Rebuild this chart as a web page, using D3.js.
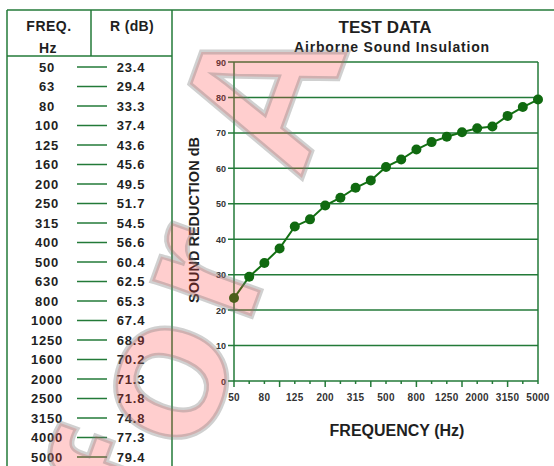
<!DOCTYPE html>
<html>
<head>
<meta charset="utf-8">
<script src="https://cdn.jsdelivr.net/npm/d3@7"></script>
<style>
  body { margin: 0; background: #fff; }
  svg { display: block; font-family: "Liberation Sans", Arial, sans-serif; font-weight: bold; }
</style>
</head>
<body>
<svg id="chart" width="554" height="466"></svg>
<script>
// table + chart data
const freqs = ["50", "63", "80", "100", "125", "160", "200", "250", "315", "400", "500",
  "630", "800", "1000", "1250", "1600", "2000", "2500", "3150", "4000", "5000"];
const rValues = [23.4, 29.4, 33.3, 37.4, 43.6, 45.6, 49.5, 51.7, 54.5, 56.6, 60.4,
  62.5, 65.3, 67.4, 68.9, 70.2, 71.3, 71.8, 74.8, 77.3, 79.4];
const yTicks = [0, 10, 20, 30, 40, 50, 60, 70, 80, 90];
const xLabels = ["50", "80", "125", "200", "315", "500", "800", "1250", "2000", "3150", "5000"];

const green = '#237a38';
const dark = '#1f1f1f';
const svg = d3.select('#chart');

// ---- left table ----
const tbl = svg.append('g');
tbl.append('line').attr('x1', 7).attr('x2', 554).attr('y1', 10).attr('y2', 10)
  .attr('stroke', green).attr('stroke-width', 1.5);
tbl.append('line').attr('x1', 7).attr('x2', 7).attr('y1', 10).attr('y2', 466)
  .attr('stroke', green).attr('stroke-width', 1.5);
tbl.append('line').attr('x1', 172).attr('x2', 172).attr('y1', 10).attr('y2', 466)
  .attr('stroke', green).attr('stroke-width', 1.5);
tbl.append('line').attr('x1', 91).attr('x2', 91).attr('y1', 10).attr('y2', 56)
  .attr('stroke', green).attr('stroke-width', 1.5);
tbl.append('line').attr('x1', 7).attr('x2', 172).attr('y1', 56).attr('y2', 56)
  .attr('stroke', green).attr('stroke-width', 1.5);

tbl.append('text').attr('x', 49).attr('y', 31).attr('text-anchor', 'middle')
  .attr('font-size', 14).attr('letter-spacing', 0.5).attr('fill', dark).text('FREQ.');
tbl.append('text').attr('x', 48).attr('y', 53).attr('text-anchor', 'middle')
  .attr('font-size', 14).attr('letter-spacing', 0.5).attr('fill', dark).text('Hz');
tbl.append('text').attr('x', 132).attr('y', 31).attr('text-anchor', 'middle')
  .attr('font-size', 14).attr('letter-spacing', 0.3).attr('fill', dark).text('R (dB)');

const rowY = d3.scalePoint().domain(freqs).range([67, 457]);

const rows = tbl.selectAll('.row').data(freqs).enter().append('g')
  .attr('class', 'row')
  .attr('transform', d => `translate(0,${rowY(d)})`);

rows.append('text').attr('x', 47).attr('y', 4.5).attr('text-anchor', 'middle')
  .attr('font-size', 13).attr('letter-spacing', 0.8).attr('fill', dark).text(d => d);
rows.append('line').attr('x1', 77).attr('x2', 107).attr('y1', 0).attr('y2', 0)
  .attr('stroke', green).attr('stroke-width', 1.5);
rows.append('text').attr('x', 131).attr('y', 4.5).attr('text-anchor', 'middle')
  .attr('font-size', 13).attr('letter-spacing', 0.8).attr('fill', dark)
  .text((d, i) => rValues[i].toFixed(1));

// ---- chart ----
const x = d3.scalePoint().domain(freqs).range([234, 538]);
const y = d3.scaleLinear().domain([0, 90]).range([381, 62]);

svg.append('text').attr('x', 385).attr('y', 33).attr('text-anchor', 'middle')
  .attr('font-size', 17).attr('fill', dark).text('TEST DATA');
svg.append('text').attr('x', 392).attr('y', 52).attr('text-anchor', 'middle')
  .attr('font-size', 14).attr('letter-spacing', 0.8).attr('fill', dark).text('Airborne Sound Insulation');

const plot = svg.append('g');

// horizontal grid with ticks
plot.selectAll('.grid').data(yTicks).enter().append('line')
  .attr('class', 'grid')
  .attr('x1', 228).attr('x2', 538)
  .attr('y1', d => y(d)).attr('y2', d => y(d))
  .attr('stroke', green).attr('stroke-width', 1.5);

plot.append('line').attr('x1', 234).attr('x2', 234).attr('y1', y(90)).attr('y2', y(0))
  .attr('stroke', green).attr('stroke-width', 1.5);
plot.append('line').attr('x1', 538).attr('x2', 538).attr('y1', y(90)).attr('y2', y(0))
  .attr('stroke', green).attr('stroke-width', 1.5);

plot.selectAll('.ylab').data(yTicks).enter().append('text')
  .attr('class', 'ylab')
  .attr('x', 226).attr('y', d => y(d) + 3.5)
  .attr('text-anchor', 'end').attr('font-size', 9).attr('fill', '#333')
  .text(d => d);

// x ticks
plot.selectAll('.xtick').data(freqs).enter().append('line')
  .attr('class', 'xtick')
  .attr('x1', d => x(d)).attr('x2', d => x(d))
  .attr('y1', y(0)).attr('y2', (d, i) => y(0) + (i % 3 === 0 ? 6 : 3))
  .attr('stroke', green).attr('stroke-width', 1.5);

plot.selectAll('.xlab').data(xLabels).enter().append('text')
  .attr('class', 'xlab')
  .attr('x', d => x(d)).attr('y', 401)
  .attr('text-anchor', 'middle').attr('font-size', 10).attr('letter-spacing', 0.3).attr('fill', '#333')
  .text(d => d);

svg.append('text').attr('transform', 'translate(199,220) rotate(-90)')
  .attr('text-anchor', 'middle').attr('font-size', 14.5).attr('fill', dark)
  .text('SOUND REDUCTION dB');
svg.append('text').attr('x', 397).attr('y', 436).attr('text-anchor', 'middle')
  .attr('font-size', 16).attr('fill', dark).text('FREQUENCY (Hz)');

// data line + dots
const line = d3.line().x((d, i) => x(freqs[i])).y(d => y(d));
plot.append('path').datum(rValues)
  .attr('d', line).attr('fill', 'none')
  .attr('stroke', '#137013').attr('stroke-width', 2);
plot.selectAll('.dot').data(rValues).enter().append('circle')
  .attr('class', 'dot')
  .attr('cx', (d, i) => x(freqs[i])).attr('cy', d => y(d))
  .attr('r', 5).attr('fill', '#106a10');

// watermark
svg.append('text')
  .attr('transform', 'translate(172,535) rotate(-70)')
  .attr('font-size', 200).attr('letter-spacing', 15)
  .attr('fill', 'rgba(255,60,60,0.25)')
  .attr('stroke', 'rgba(120,120,120,0.35)').attr('stroke-width', 5)
  .text('for A');
</script>
</body>
</html>
